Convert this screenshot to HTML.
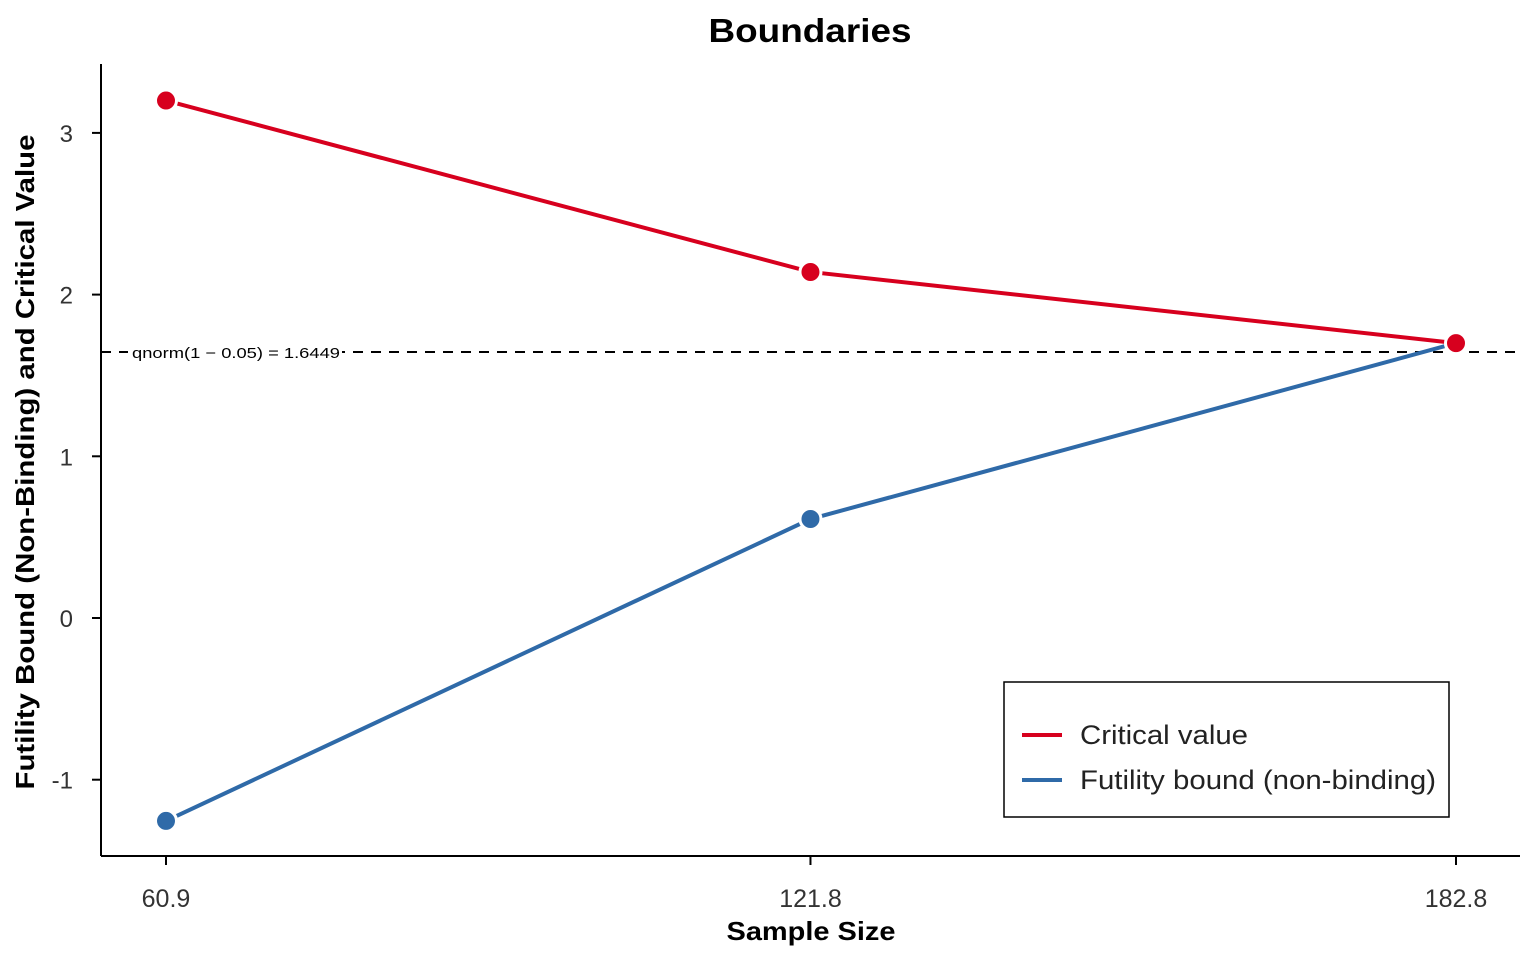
<!DOCTYPE html>
<html><head><meta charset="utf-8"><style>
body{margin:0;background:#fff;font-family:"Liberation Sans",Arial,sans-serif}
svg text{font-family:"Liberation Sans",Arial,sans-serif}
</style></head><body>
<svg id="chart" width="1536" height="960">
<text x="810" y="42" text-anchor="middle" font-size="33" font-weight="bold" textLength="203" lengthAdjust="spacingAndGlyphs">Boundaries</text>
<text x="811" y="940" text-anchor="middle" font-size="26" font-weight="bold" textLength="169" lengthAdjust="spacingAndGlyphs">Sample Size</text>
<text transform="translate(34,462) rotate(-90)" text-anchor="middle" font-size="26" font-weight="bold" textLength="655" lengthAdjust="spacingAndGlyphs">Futility Bound (Non-Binding) and Critical Value</text>
<g id="axes"></g><g id="marks"></g>
<g>
<rect x="1004" y="682" width="445" height="135" fill="#fff" stroke="#000" stroke-width="1.5"/>
<line x1="1022" y1="735" x2="1062" y2="735" stroke="#d7001e" stroke-width="4"/>
<text x="1080" y="744" font-size="27" fill="#222" textLength="168" lengthAdjust="spacingAndGlyphs">Critical value</text>
<line x1="1022" y1="780" x2="1062" y2="780" stroke="#2f6aa8" stroke-width="4"/>
<text x="1080" y="789" font-size="27" fill="#222" textLength="356" lengthAdjust="spacingAndGlyphs">Futility bound (non-binding)</text>
</g>
</svg>
<script>
const sampleSizes=[60.9,121.8,182.8];
const xLabels=["60.9","121.8","182.8"];
const criticalValues=[3.2,2.14,1.70];
const futilityValues=[-1.255,0.612,1.70];
const yTicks=[-1,0,1,2,3];
const refValue=1.6449;
const NS="http://www.w3.org/2000/svg";
const xs=v=>166+(v-60.9)*(1290/121.9);
const ys=v=>618-v*161.7;
function mk(tag,attrs,parent){const e=document.createElementNS(NS,tag);for(const k in attrs)e.setAttribute(k,attrs[k]);parent.appendChild(e);return e;}
const ax=document.getElementById('axes'),mg=document.getElementById('marks');
let e=mk('line',{x1:101,y1:64,x2:101,y2:856,stroke:'#000','stroke-width':2},ax);


e=mk('line',{x1:101,y1:856,x2:1520,y2:856,stroke:'#000','stroke-width':2},ax);


yTicks.forEach(t=>{
 let l=mk('line',{x1:92,x2:101,y1:ys(t),y2:ys(t),stroke:'#000','stroke-width':2},ax);
 
 
 let tx=mk('text',{x:73,y:ys(t)+9,'text-anchor':'end','font-size':24,fill:'#333'},ax);tx.textContent=t;
 
 
});
sampleSizes.forEach((s,i)=>{
 let l=mk('line',{x1:xs(s),x2:xs(s),y1:856,y2:865,stroke:'#000','stroke-width':2},ax);
 
 
 let tx=mk('text',{x:xs(s),y:907,'text-anchor':'middle','font-size':25,fill:'#333'},ax);tx.textContent=xLabels[i];
 
 
});
e=mk('line',{x1:101,x2:1520,y1:ys(refValue),y2:ys(refValue),stroke:'#000','stroke-width':2,'stroke-dasharray':'10,8'},mg);


e=mk('rect',{x:128,y:ys(refValue)-11,width:214,height:22,fill:'#fff'},mg);


e=mk('text',{x:132,y:ys(refValue)+6,'font-size':15,fill:'#000',textLength:208,lengthAdjust:'spacingAndGlyphs'},mg);
e.textContent='qnorm(1 − 0.05) = 1.6449';


function series(vals,color,name){
 let p=mk('polyline',{points:vals.map((v,i)=>xs(sampleSizes[i])+','+ys(v)).join(' '),fill:'none',stroke:color,'stroke-width':4},mg);
 
 
 vals.forEach((v,i)=>{
  let c=mk('circle',{cx:xs(sampleSizes[i]),cy:ys(v),r:10.5,fill:color,stroke:'#fff','stroke-width':3},mg);
  
  
 });
}
series(futilityValues,'#2f6aa8','futility');
series(criticalValues,'#d7001e','critical');
</script>
</body></html>
